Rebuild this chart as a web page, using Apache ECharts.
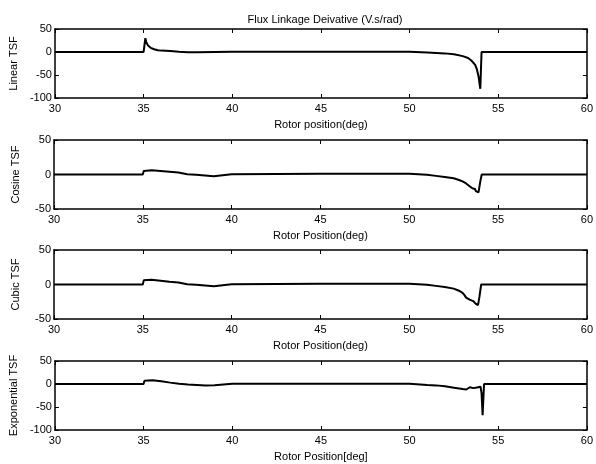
<!doctype html>
<html lang="en">
<head>
  <meta charset="UTF-8">
  <title>Flux Linkage Derivative</title>
  <style>
    html, body { margin: 0; padding: 0; background: #fff; }
    #chart { width: 596px; height: 464px; }
  </style>
  <script src="https://cdn.jsdelivr.net/npm/echarts@6/dist/echarts.min.js"></script>
</head>
<body>
  <div id="chart"></div>
  <script>
    var xTicks = [30, 35, 40, 45, 50, 55, 60];

    var panelNames = ['Linear TSF', 'Cosine TSF', 'Cubic TSF', 'Exponential TSF'];
    var xNames = ['Rotor position(deg)', 'Rotor Position(deg)', 'Rotor Position(deg)', 'Rotor Position[deg]'];
    var yMins = [-100, -50, -50, -100];

    // Linear TSF
    var linX = [30, 35.0, 35.05, 35.1, 35.15, 35.25, 35.4, 35.6, 35.8, 36.0, 36.5, 37.0, 37.5, 38, 39, 40, 45, 50, 51, 52, 52.5, 53, 53.3, 53.5, 53.7, 53.8, 53.9, 53.95, 53.99, 54.06, 55, 60];
    var linY = [0, 0, 15, 30, 22, 14, 9, 6, 4, 3, 2, 0.5, -0.5, -0.5, 0, 0.3, 0.5, 0.3, -1, -3, -5, -9, -13, -19, -28, -38, -55, -70, -80, 0, 0, 0];

    // Cosine TSF
    var cosX = [30, 35, 35.05, 35.15, 35.5, 36, 36.5, 37, 37.1, 37.5, 38, 38.5, 39, 39.1, 40, 45, 50, 50.5, 51, 51.5, 52, 52.5, 52.8, 53, 53.1, 53.2, 53.3, 53.4, 53.5, 53.55, 53.6, 53.65, 53.7, 53.75, 53.8, 53.85, 53.9, 54.0, 54.08, 55, 60];
    var cosY = [0, 0, 5, 7, 6, 5, 4, 3, 1.5, 0.5, -0.5, -1.5, -2.5, 0, 0.5, 1, 1.2, 0.5, -0.5, -2, -3.5, -5.5, -8, -10, -12, -13, -15, -17, -18, -20, -19, -22, -21, -24, -23, -25, -26, -10, 0, 0, 0];

    // Cubic TSF
    var cubX = [30, 35, 35.05, 35.15, 35.5, 36, 36.5, 37, 37.1, 37.5, 38, 38.5, 39, 39.1, 40, 45, 50, 50.5, 51, 51.5, 52, 52.5, 52.8, 53, 53.1, 53.2, 53.3, 53.4, 53.5, 53.6, 53.65, 53.7, 53.75, 53.8, 53.87, 53.95, 54.05, 55, 60];
    var cubY = [0, 0, 6, 8, 7, 5.5, 4, 3, 1.5, 0.5, -0.5, -1.5, -2.5, 0, 0.5, 1, 1.2, 0.5, -0.5, -2, -3.5, -6, -9, -12, -15, -19, -21, -22, -24, -24, -26, -25, -28, -27, -30, -18, 0, 0, 0];

    // Exponential TSF
    var expX = [30, 35, 35.05, 35.15, 35.5, 36, 36.5, 37, 37.5, 38, 38.5, 39, 39.1, 40, 45, 50, 51, 51.5, 52, 52.5, 53, 53.2, 53.4, 53.6, 53.8, 54.0, 54.06, 54.12, 54.2, 55, 60];
    var expY = [0, 0, 7, 10, 8, 6, 3, 0.5, -1, -2, -3, -2.5, 0, 0.3, 0.5, 0.3, -2, -3, -5, -8, -11, -12, -7, -9, -7.5, -6, -20, -68, 0, 0, 0];

    var panelX = [linX, cosX, cubX, expX];
    var panelY = [linY, cosY, cubY, expY];

    var tops = [29, 140, 250, 361];
    var plotH = 69;
    var font = 'Liberation Sans, Arial, sans-serif';

    function pairs(xs, ys) {
      var out = [];
      for (var i = 0; i < xs.length; i++) out.push([xs[i], ys[i]]);
      return out;
    }

    var grid = [], xAxis = [], yAxis = [], series = [];
    for (var p = 0; p < 4; p++) {
      grid.push({ left: 54, right: 9, top: tops[p], height: plotH, show: false });
      // bottom axis with labels
      xAxis.push({
        type: 'value', gridIndex: p, min: 30, max: 60, interval: 5, position: 'bottom',
        name: xNames[p], nameLocation: 'middle', nameGap: 21,
        nameTextStyle: { color: '#000', fontSize: 11, fontFamily: font },
        axisLine: { onZero: false, lineStyle: { color: '#000', width: 1.5 } },
        axisTick: { inside: true, length: 4, lineStyle: { color: '#000' } },
        axisLabel: { color: '#000', fontSize: 11, fontFamily: font, margin: 5 },
        splitLine: { show: false }
      });
      // top box edge
      xAxis.push({
        type: 'value', gridIndex: p, min: 30, max: 60, interval: 5, position: 'top',
        axisLine: { onZero: false, lineStyle: { color: '#000', width: 1.5 } },
        axisTick: { inside: true, length: 4, lineStyle: { color: '#000' } },
        axisLabel: { show: false },
        splitLine: { show: false }
      });
      yAxis.push({
        type: 'value', gridIndex: p, min: yMins[p], max: 50, interval: 50, position: 'left',
        name: panelNames[p], nameLocation: 'middle', nameGap: 33,
        nameTextStyle: { color: '#000', fontSize: 11, fontFamily: font },
        axisLine: { onZero: false, lineStyle: { color: '#000', width: 1.5 } },
        axisTick: { inside: true, length: 4, lineStyle: { color: '#000' } },
        axisLabel: { color: '#000', fontSize: 11, fontFamily: font, margin: 3 },
        splitLine: { show: false }
      });
      yAxis.push({
        type: 'value', gridIndex: p, min: yMins[p], max: 50, interval: 50, position: 'right',
        axisLine: { onZero: false, lineStyle: { color: '#000', width: 1.5 } },
        axisTick: { inside: true, length: 4, lineStyle: { color: '#000' } },
        axisLabel: { show: false },
        splitLine: { show: false }
      });
      series.push({
        type: 'line', xAxisIndex: p * 2, yAxisIndex: p * 2,
        data: pairs(panelX[p], panelY[p]),
        showSymbol: false, symbol: 'none',
        lineStyle: { color: '#000', width: 2 },
        silent: true
      });
    }

    var myChart = echarts.init(document.getElementById('chart'));
    myChart.setOption({
      animation: false,
      backgroundColor: '#fff',
      title: {
        text: 'Flux Linkage Deivative (V.s/rad)',
        left: 320, top: 9, textAlign: 'center',
        textStyle: { color: '#000', fontSize: 11, fontWeight: 'normal', fontFamily: font }
      },
      grid: grid,
      xAxis: xAxis,
      yAxis: yAxis,
      series: series
    });
  </script>
</body>
</html>
